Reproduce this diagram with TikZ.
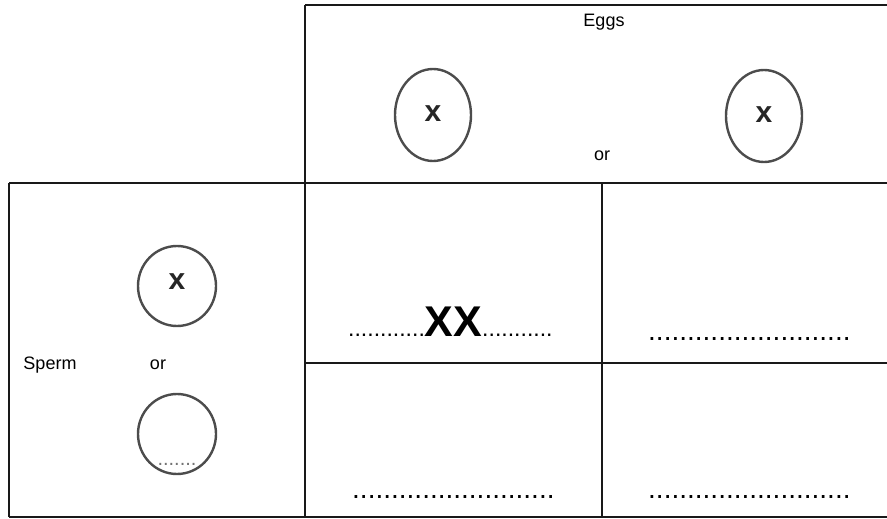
\documentclass[tikz,border=0pt]{standalone}
\usepackage{fontspec}
\setmainfont{Liberation Sans}
\usetikzlibrary{shapes.geometric}
\begin{document}
\begin{tikzpicture}[x=1pt,y=-1pt,
  grid/.style={line width=2.2pt,black!90},
  cell/.style={ellipse,draw=black!70,line width=2.4pt,minimum width=76pt,minimum height=92pt,inner sep=0pt},
  cellr/.style={ellipse,draw=black!70,line width=2.4pt,minimum width=78pt,minimum height=80pt,inner sep=0pt},
  lbl/.style={font=\fontsize{18}{20}\selectfont,inner sep=0pt},
  chrom/.style={font=\fontsize{30}{30}\selectfont\bfseries,text=black!85,inner sep=0pt},
  dots/.style={font=\fontsize{28}{28}\selectfont,inner sep=0pt,anchor=base west}]
\useasboundingbox (0,0) rectangle (887,519);
% grid
\draw[grid] (305,5) -- (887,5);
\draw[grid] (305,5) -- (305,517);
\draw[grid] (9,183) -- (887,183);
\draw[grid] (9,183) -- (9,517);
\draw[grid] (9,517) -- (887,517);
\draw[grid] (602,183) -- (602,517);
\draw[grid] (305,363) -- (887,363);
% eggs
\node[lbl] (eggs) at (604,22) {Eggs};
\node[cell] (egg1) at (433,115) {};
\node[chrom] (egg1x) at (433,114) {x};
\node[cell] (egg2) at (764,116) {};
\node[chrom] (egg2x) at (764,115) {x};
\node[lbl] (eor) at (602,156) {or};
% sperm
\node[lbl] (sperm) at (50,365) {Sperm};
\node[lbl] (sor) at (158,365) {or};
\node[cellr] (sp1) at (177,286) {};
\node[chrom] (sp1x) at (177,282) {x};
\node[cellr] (sp2) at (177,434) {};
\node[font=\fontsize{20}{20}\selectfont,text=black!55,inner sep=0pt,anchor=base] (sp2d) at (177,465) {.......};
% cells
\node[inner sep=0pt,anchor=base west] (c11) at (348,336)
  {\fontsize{23}{23}\selectfont............\fontsize{43}{43}\selectfont\bfseries XX\fontsize{23}{23}\selectfont\mdseries...........};
\node[dots] (c12) at (648,340) {..........................};
\node[dots] (c21) at (352,498) {..........................};
\node[dots] (c22) at (648,498) {..........................};
\end{tikzpicture}
\end{document}
